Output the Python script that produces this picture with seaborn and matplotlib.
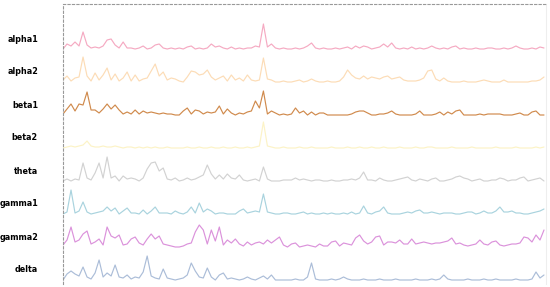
import matplotlib
matplotlib.use("Agg")
import matplotlib.pyplot as plt
import numpy as np
import pandas as pd
import seaborn as sns

# channel traces (amplitude above each baseline)
channels = ["alpha1", "alpha2", "beta1", "beta2", "theta", "gamma1", "gamma2", "delta"]
colors = ["#f5aac2", "#fcdcb6", "#d08a4c", "#fcf3c6", "#d2d2d2", "#a9d3de", "#db92db", "#abbdd8"]

alpha1 = [0, 5, 3, 7, 3, 17, 4, 1, 2, 1, 3, 9, 10, 4, 1, 7, 1, 1, 0, 1,
          3, 0, 1, 4, 5, 1, 0, 1, 0, 1, 0, 2, 3, 0, 1, 0, 1, 5, 2, 3,
          1, 0, 2, 0, 1, 0, 1, 1, 3, 2, 25, 2, 5, 1, 0, 1, 0, 0, 1, 0,
          1, 3, 6, 1, 0, 1, 0, 0, 1, 0, 1, 2, 0, 3, 1, 3, 2, 0, 1, 2,
          5, 2, 6, 1, 0, 1, 0, 2, 0, 1, 0, 1, 3, 1, 0, 1, 0, 2, 3, 0,
          1, 0, 0, 1, 0, 0, 1, 1, 0, 0, 1, 0, 1, 3, 1, 0, 0, 1, 0, 2, 1]
alpha2 = [2, 6, 1, 4, 5, 25, 6, 1, 9, 2, 7, 14, 2, 8, 1, 4, 10, 1, 7, 1,
          3, 4, 11, 18, 6, 10, 2, 4, 3, 1, 0, 5, 11, 10, 7, 8, 12, 5, 2, 4,
          6, 1, 7, 2, 4, 1, 7, 2, 1, 2, 24, 3, 2, 0, 0, 1, 0, 0, 1, 2,
          0, 1, 3, 1, 0, 0, 1, 0, 0, 1, 5, 12, 7, 4, 3, 6, 3, 5, 4, 3,
          5, 6, 3, 4, 5, 2, 1, 1, 1, 2, 4, 11, 12, 3, 1, 4, 1, 0, 0, 0,
          1, 0, 0, 0, 1, 2, 1, 0, 0, 0, 2, 0, 0, 0, 0, 0, 0, 1, 1, 2, 5]
beta1 = [1, 6, 11, 4, 11, 10, 23, 5, 5, 2, 6, 11, 6, 10, 5, 1, 3, 1, 5, 1,
         4, 2, 3, 2, 1, 2, 1, 1, 0, 0, 4, 7, 1, 5, 4, 1, 3, 2, 3, 9,
         1, 6, 2, 0, 2, 1, 3, 4, 14, 7, 24, 1, 4, 2, 0, 1, 0, 1, 7, 2,
         4, 0, 3, 0, 2, 2, 0, 0, 0, 0, 0, 0, 1, 3, 4, 4, 2, 0, 0, 1,
         1, 2, 4, 1, 0, 0, 0, 0, 1, 4, 0, 0, 0, 1, 3, 0, 3, 1, 4, 5,
         0, 0, 0, 0, 1, 0, 1, 1, 1, 1, 0, 0, 0, 1, 2, 0, 0, 3, 4, 0, 0]
beta2 = [0, 1, 2, 1, 2, 3, 7, 2, 1, 1, 2, 1, 1, 2, 1, 0, 1, 1, 0, 1,
         0, 1, 0, 1, 0, 0, 1, 0, 0, 0, 0, 1, 0, 0, 1, 0, 0, 1, 0, 0,
         1, 0, 0, 1, 0, 0, 1, 0, 1, 2, 26, 2, 1, 0, 0, 1, 0, 0, 0, 1,
         0, 0, 1, 0, 0, 0, 0, 1, 0, 0, 0, 1, 0, 0, 1, 0, 0, 1, 0, 0,
         1, 0, 0, 0, 1, 0, 0, 0, 1, 0, 0, 1, 1, 0, 0, 0, 0, 1, 0, 0,
         0, 0, 1, 0, 0, 0, 0, 0, 1, 0, 0, 0, 0, 1, 0, 0, 0, 0, 1, 0, 1]
theta = [0, 2, 0, 2, 1, 18, 3, 1, 8, 18, 3, 24, 3, 5, 0, 5, 2, 3, 2, 0,
         3, 12, 18, 19, 10, 13, 2, 1, 3, 0, 1, 3, 1, 2, 4, 6, 16, 7, 2, 6,
         2, 7, 3, 2, 6, 1, 0, 1, 2, 0, 14, 2, 0, 0, 0, 1, 1, 1, 3, 1,
         2, 1, 0, 1, 1, 0, 0, 1, 0, 0, 1, 1, 2, 1, 3, 9, 1, 1, 0, 3,
         1, 0, 0, 1, 2, 3, 4, 1, 0, 2, 1, 0, 2, 3, 0, 0, 1, 2, 4, 5,
         3, 2, 0, 1, 2, 0, 0, 1, 1, 3, 2, 0, 1, 1, 3, 4, 0, 1, 2, 3, 0]
gamma1 = [0, 2, 24, 1, 3, 12, 2, 0, 1, 2, 3, 7, 3, 6, 0, 3, 6, 1, 1, 0,
          4, 0, 3, 7, 1, 1, 1, 0, 3, 1, 0, 2, 7, 1, 11, 2, 5, 3, 0, 1,
          1, 0, 0, 0, 3, 5, 1, 2, 3, 2, 20, 2, 1, 0, 0, 1, 1, 0, 0, 1,
          2, 0, 1, 0, 0, 1, 0, 1, 0, 0, 1, 0, 2, 0, 1, 8, 1, 0, 2, 3,
          7, 1, 0, 0, 0, 1, 2, 1, 3, 4, 1, 1, 2, 1, 0, 1, 1, 1, 0, 0,
          1, 2, 2, 0, 1, 3, 1, 1, 3, 7, 2, 2, 3, 1, 1, 0, 0, 1, 2, 3, 5]
gamma2 = [2, 7, 20, 5, 7, 13, 16, 3, 5, 8, 2, 20, 11, 9, 12, 2, 3, 8, 10, 4,
          2, 8, 13, 8, 11, 3, 2, 1, 0, 0, 1, 3, 4, 15, 22, 17, 3, 17, 6, 20,
          2, 7, 4, 8, 3, 1, 5, 2, 4, 5, 3, 7, 4, 7, 10, 2, 0, 3, 4, 0,
          1, 2, 1, 0, 3, 1, 1, 5, 6, 1, 4, 3, 2, 9, 12, 6, 3, 5, 10, 11,
          2, 5, 5, 4, 7, 3, 3, 8, 3, 4, 5, 4, 3, 4, 4, 5, 6, 9, 3, 4,
          2, 1, 2, 3, 7, 3, 2, 5, 6, 2, 1, 2, 3, 3, 4, 10, 9, 5, 12, 7, 17]
delta = [0, 6, 9, 6, 4, 13, 3, 1, 7, 20, 3, 7, 4, 15, 3, 2, 5, 1, 3, 2,
         8, 24, 4, 2, 1, 11, 2, 1, 0, 1, 2, 5, 17, 9, 3, 2, 12, 3, 0, 5,
         7, 1, 2, 1, 0, 1, 3, 1, 0, 2, 4, 1, 5, 0, 0, 0, 0, 0, 1, 0,
         0, 3, 17, 1, 0, 0, 0, 1, 0, 1, 3, 1, 0, 0, 0, 1, 0, 0, 0, 1,
         0, 0, 0, 1, 0, 0, 0, 0, 1, 0, 0, 0, 1, 0, 1, 5, 1, 0, 0, 0,
         0, 1, 0, 0, 0, 1, 0, 0, 1, 0, 0, 0, 0, 1, 0, 0, 0, 1, 8, 2, 5]

series = [alpha1, alpha2, beta1, beta2, theta, gamma1, gamma2, delta]
spacing = 33
offsets = {ch: 4 + spacing * (len(channels) - 1 - k) for k, ch in enumerate(channels)}

frames = []
for ch, vals in zip(channels, series):
    frames.append(pd.DataFrame({"t": np.arange(len(vals)), "value": vals, "channel": ch}))
df = pd.concat(frames, ignore_index=True)
df["shifted"] = df["value"] + df["channel"].map(offsets)

sns.set_style("white")
fig, ax = plt.subplots(figsize=(5.5, 2.87), dpi=100)
fig.subplots_adjust(left=63 / 550, right=546 / 550, top=1 - 4 / 287, bottom=3 / 287)

sns.lineplot(data=df, x="t", y="shifted", hue="channel", hue_order=channels,
             palette=colors, estimator=None, legend=False, linewidth=0.85, ax=ax)

ax.set_xlim(0, 120.5)
ax.set_ylim(0, 280)
ax.set_xticks([])
ax.set_yticks([offsets[ch] + 11 for ch in channels])
ax.set_yticklabels(channels, fontsize=5.8, fontweight="bold", color="black")
ax.tick_params(axis="y", length=0, pad=18)
ax.set_xlabel("")
ax.set_ylabel("")

for side in ["left", "top"]:
    ax.spines[side].set_visible(True)
    ax.spines[side].set_linestyle((0, (2, 2)))
    ax.spines[side].set_color("#999999")
    ax.spines[side].set_linewidth(0.8)
ax.spines["right"].set_color("#eeeeee")
ax.spines["right"].set_linewidth(0.8)
ax.spines["bottom"].set_visible(False)

fig.savefig("out.png", dpi=100)
